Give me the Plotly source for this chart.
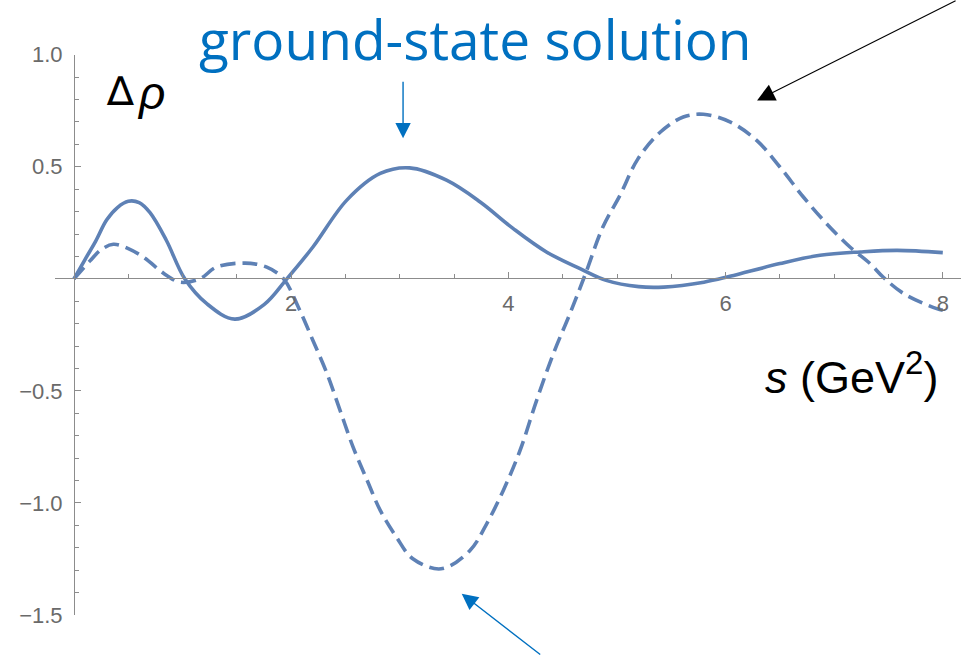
import plotly.graph_objects as go

# s values (GeV^2) and Δρ for the ground-state solution (solid curve)
s_ground = [0.0, 0.1, 0.2, 0.3, 0.4, 0.5, 0.6, 0.7, 0.85, 1.02, 1.22, 1.48, 1.75, 1.96,
            2.2, 2.51, 2.82, 3.09, 3.43, 3.74, 4.045, 4.35, 4.66, 4.9, 5.2, 5.43,
            5.8, 6.04, 6.5, 6.87, 7.24, 7.58, 8.0]
rho_ground = [0.0, 0.085, 0.168, 0.262, 0.318, 0.346, 0.34, 0.295, 0.172, 0.0, -0.11, -0.18, -0.115, 0.0,
              0.142, 0.35, 0.47, 0.495, 0.44, 0.343, 0.224, 0.12, 0.045, -0.007, -0.035, -0.037,
              -0.015, 0.011, 0.068, 0.105, 0.12, 0.127, 0.117]

# s values and Δρ for the second solution (dashed curve)
s_other = [0.0, 0.147, 0.25, 0.362, 0.5, 0.638, 0.854, 0.976, 1.16, 1.31, 1.575, 1.775, 1.93,
           2.065, 2.2, 2.33, 2.45, 2.57, 2.7, 2.82, 2.97, 3.12, 3.38, 3.646, 3.8, 3.953,
           4.107, 4.26, 4.414, 4.567, 4.71, 4.87, 5.03, 5.19, 5.4, 5.61, 5.795, 6.04, 6.286,
           6.5, 6.716, 6.93, 7.145, 7.33, 7.45, 7.64, 7.944, 8.0]
rho_other = [0.0, 0.08, 0.13, 0.154, 0.135, 0.097, 0.015, -0.015, 0.0, 0.052, 0.07, 0.052, 0.0,
             -0.126, -0.275, -0.423, -0.587, -0.751, -0.9, -1.033, -1.153, -1.249, -1.294, -1.212, -1.093, -0.944,
             -0.766, -0.542, -0.334, -0.155, 0.023, 0.231, 0.375, 0.533, 0.655, 0.722, 0.734, 0.7, 0.618,
             0.499, 0.365, 0.246, 0.142, 0.068, 0.008, -0.066, -0.133, -0.14]

x_tick_vals = [2, 4, 6, 8]
x_tick_text = ["2", "4", "6", "8"]
y_tick_vals = [-1.5, -1.0, -0.5, 0.5, 1.0]
y_tick_text = ["\u22121.5", "\u22121.0", "\u22120.5", "0.5", "1.0"]

W, H = 961, 656
CURVE = "#5E81B5"
AXIS = "#8c8c8c"
LABEL = "#6a6a6a"
BLUE = "#0070C0"

fig = go.Figure()
fig.add_trace(go.Scatter(x=s_ground, y=rho_ground, mode="lines",
                         line=dict(color=CURVE, width=3.6, shape="spline", smoothing=1.0),
                         hoverinfo="skip"))
fig.add_trace(go.Scatter(x=s_other, y=rho_other, mode="lines",
                         line=dict(color=CURVE, width=3.6, shape="spline", smoothing=1.0,
                                   dash="15px,7px"),
                         hoverinfo="skip"))

# axis geometry in pixels: origin at (74, 278.3)
px_per_x = 108.6
x_left_px = 55
x0 = -(74 - x_left_px) / px_per_x
x1 = x0 + (W - x_left_px) / px_per_x
y_top_px, y_bot_px, y_zero_px = 54.7, 615.0, 278.3

fig.update_layout(
    width=W, height=H,
    margin=dict(l=0, r=0, t=0, b=0, autoexpand=False),
    paper_bgcolor="white", plot_bgcolor="white",
    showlegend=False,
    xaxis=dict(
        domain=[x_left_px / W, 1.0], range=[x0, x1],
        anchor="free", position=1 - y_zero_px / H,
        showgrid=False, zeroline=False,
        showline=True, linecolor=AXIS, linewidth=1,
        tickmode="array", tickvals=x_tick_vals, ticktext=x_tick_text,
        ticks="inside", ticklen=6, tickwidth=1, tickcolor=AXIS,
        ticklabelstandoff=5,
        tickfont=dict(family="Liberation Sans", size=22, color=LABEL),
        minor=dict(tickmode="linear", tick0=0, dtick=0.5, ticks="inside",
                   ticklen=4, tickwidth=1, tickcolor=AXIS),
    ),
    yaxis=dict(
        domain=[1 - y_bot_px / H, 1 - y_top_px / H], range=[-1.5, 1.0],
        anchor="free", position=74 / W, side="left",
        showgrid=False, zeroline=False,
        showline=True, linecolor=AXIS, linewidth=1,
        tickmode="array", tickvals=y_tick_vals, ticktext=y_tick_text,
        ticks="inside", ticklen=6, tickwidth=1, tickcolor=AXIS,
        ticklabelstandoff=7,
        tickfont=dict(family="Liberation Sans", size=22, color=LABEL),
        minor=dict(tickmode="linear", tick0=0, dtick=0.1, ticks="inside",
                   ticklen=4, tickwidth=1, tickcolor=AXIS),
    ),
)


def px(xp):
    return xp / W


def py(yp):
    return 1 - yp / H


def label(xp, yp, text, font):
    fig.add_annotation(x=px(xp), y=py(yp), xref="paper", yref="paper", text=text,
                       xanchor="center", yanchor="middle", showarrow=False, font=font)


# axis labels
label(120, 91, "\u2206", dict(family="DejaVu Sans", size=40, color="black"))
label(151, 93, "<i>\u03c1</i>", dict(family="Liberation Sans", size=46, color="black"))
label(851, 373, "<i>s</i> (GeV<sup><span style=\"font-size:33px\">2</span></sup>)",
      dict(family="Liberation Sans", size=45, color="black"))

# blue heading
label(475, 38, "ground-state solution", dict(family="Open Sans", size=55, color=BLUE))

# arrows pointing at the curves
fig.add_annotation(x=3.03, y=0.627, xref="x", yref="y", ax=0, ay=-58, text="",
                   showarrow=True, arrowhead=2, arrowsize=2.2, arrowwidth=1.4,
                   arrowcolor=BLUE, standoff=0)
fig.add_annotation(x=3.57, y=-1.405, xref="x", yref="y", ax=80, ay=62, text="",
                   showarrow=True, arrowhead=2, arrowsize=2.3, arrowwidth=1.4,
                   arrowcolor=BLUE, standoff=0)
fig.add_annotation(x=6.29, y=0.796, xref="x", yref="y", ax=200, ay=-104, text="",
                   showarrow=True, arrowhead=2, arrowsize=3.2, arrowwidth=1.1,
                   arrowcolor="black", standoff=0)

fig.write_html("out.html")
